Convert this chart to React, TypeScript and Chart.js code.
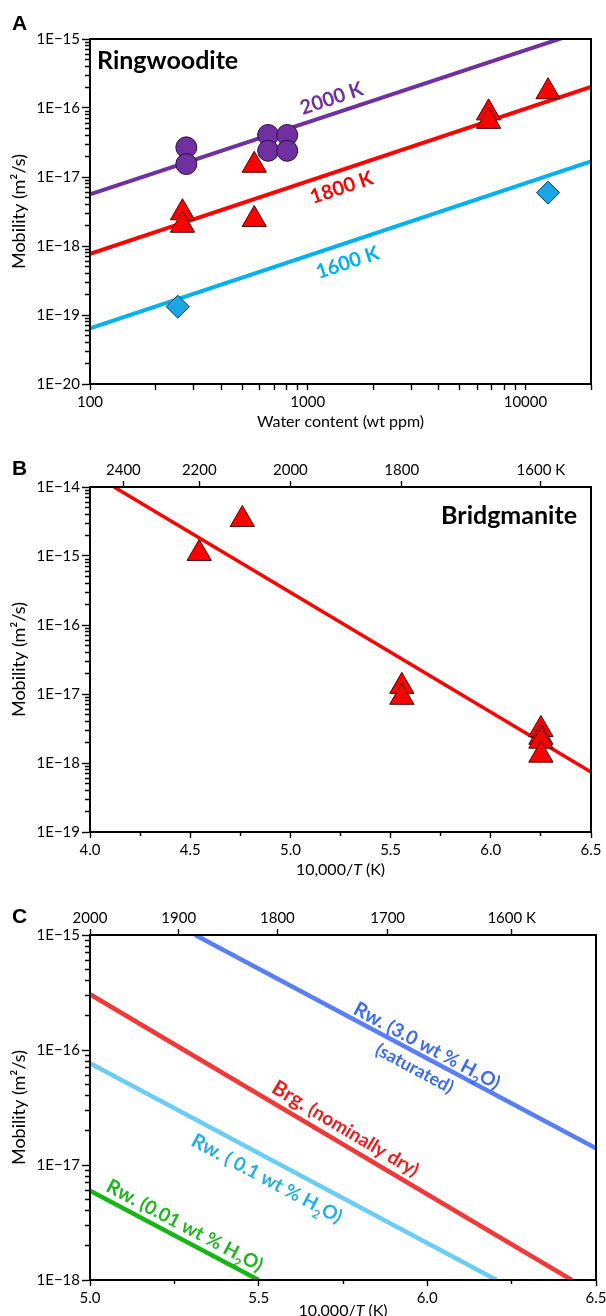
import React, { useEffect, useRef } from 'react';
import { Chart, registerables } from 'chart.js';

Chart.register(...registerables);

const FONT_FAMILY = 'Lato, "Open Sans", "DejaVu Sans", sans-serif';
const LETTER_FAMILY = '"Liberation Sans", Arial, sans-serif';

// ---------------- Panel A : Ringwoodite ----------------
const waterLabelledTicks = [100, 1000, 10000];
const waterTickExponents = [2, 3, 4];
const logMultipliers = [1, 2, 3, 4, 5, 6, 7, 8, 9];
const mobilityExponentsA = [-20, -19, -18, -17, -16, -15];

const fit2000Water = [100, 20000];
const fit2000Mobility = [5.6e-18, 1.42e-15];
const fit1800Water = [100, 20000];
const fit1800Mobility = [7.7e-19, 2.02e-16];
const fit1600Water = [100, 20000];
const fit1600Mobility = [6.4e-20, 1.68e-17];

const rw2000Water = [277, 277, 658, 658, 805, 805];
const rw2000Mobility = [2.69e-17, 1.54e-17, 4.06e-17, 2.4e-17, 4.06e-17, 2.4e-17];
const rw1800Water = [266, 266, 568, 568, 6770, 6770, 12700];
const rw1800Mobility = [3.03e-18, 2.0e-18, 1.48e-17, 2.42e-18, 8.5e-17, 6.4e-17, 1.72e-16];
const rw1600Water = [253, 12700];
const rw1600Mobility = [1.32e-19, 5.93e-18];

// ---------------- Panel B : Bridgmanite ----------------
const invTTicksB = [4.0, 4.25, 4.5, 4.75, 5.0, 5.25, 5.5, 5.75, 6.0, 6.25, 6.5];
const tempTicksB = [2400, 2200, 2000, 1800, 1600];
const mobilityExponentsB = [-19, -18, -17, -16, -15, -14];

const brgFitInvT = [4.12, 6.5];
const brgFitMobility = [1.0e-14, 7.4e-19];
const brgInvT = [4.545, 4.76, 5.556, 5.556, 6.25, 6.25, 6.25, 6.25];
const brgMobility = [1.09e-15, 3.38e-15, 1.29e-17, 8.96e-18, 3.06e-18, 2.36e-18, 2.07e-18, 1.3e-18];

// ---------------- Panel C : comparison ----------------
const invTTicksC = [5.0, 5.25, 5.5, 5.75, 6.0, 6.25, 6.5];
const tempTicksC = [2000, 1900, 1800, 1700, 1600];
const mobilityExponentsC = [-18, -17, -16, -15];

const rwSatInvT = [5.312, 6.5];
const rwSatMobility = [1.0e-15, 1.4e-17];
const brgDryInvT = [5.0, 6.428];
const brgDryMobility = [3.05e-16, 1.0e-18];
const rw01InvT = [5.0, 6.205];
const rw01Mobility = [7.66e-17, 1.0e-18];
const rw001InvT = [5.0, 5.5];
const rw001Mobility = [5.98e-18, 1.0e-18];

// ---------------- styles ----------------
const PURPLE = '#7030A0';
const RED = '#FF0000';
const CYAN = '#00B0F0';
const DIAMOND = '#19A6E3';
const C_BLUE_LINE = '#5A7FF2';
const C_BLUE_TEXT = '#3B6CEF';
const C_RED_LINE = '#F03A3A';
const C_RED_TEXT = '#EE1C1C';
const C_LBLUE_LINE = '#6CCDF3';
const C_LBLUE_TEXT = '#22AEEA';
const C_GREEN_LINE = '#18B418';
const C_GREEN_TEXT = '#1FB51F';

const zip = (xs: number[], ys: number[]) => xs.map((x, i) => ({ x, y: ys[i] }));

function logTickValues(exps: number[], min: number, max: number) {
  const out: number[] = [];
  for (const e of exps) {
    for (const m of logMultipliers) {
      const v = Number(`${m}e${e}`);
      if (v >= min * (1 - 1e-9) && v <= max * (1 + 1e-9)) out.push(v);
    }
  }
  return out;
}
const isDecade = (v: number) => {
  const l = Math.log10(v);
  return Math.abs(l - Math.round(l)) < 1e-9;
};
const isHalf = (v: number) => Math.abs(v * 2 - Math.round(v * 2)) < 1e-6;

const tickFont = { family: FONT_FAMILY, size: 15 };

function zeroPad(s: any) {
  s.paddingLeft = 0;
  s.paddingRight = 0;
  s.paddingTop = 0;
  s.paddingBottom = 0;
}

function mobilityAxis(min: number, max: number, exps: number[]) {
  return {
    type: 'logarithmic',
    position: 'left',
    min,
    max,
    afterFit: (s: any) => {
      s.width = 90;
      zeroPad(s);
    },
    afterBuildTicks: (s: any) => {
      s.ticks = logTickValues(exps, min, max).map((value) => ({ value }));
    },
    ticks: {
      autoSkip: false,
      padding: 2,
      color: '#000',
      font: tickFont,
      callback: (v: any) => (isDecade(Number(v)) ? `1E\u2212${-Math.round(Math.log10(Number(v)))}` : ''),
    },
    grid: {
      drawOnChartArea: false,
      tickLength: 8,
      tickWidth: 1.4,
      tickColor: '#000',
      tickBorderDash: (c: any) => (c.tick && isDecade(c.tick.value) ? [] : [0, 3, 4, 100]),
    },
    border: { color: '#000', width: 2 },
    title: {
      display: true,
      text: 'Mobility (m\u00B2/s)',
      color: '#000',
      font: { family: FONT_FAMILY, size: 18 },
      padding: { top: 8, bottom: 0 },
    },
  };
}

function invTAxis(min: number, max: number, tickVals: number[], height: number) {
  return {
    type: 'linear',
    position: 'bottom',
    min,
    max,
    afterFit: (s: any) => {
      s.height = height;
      zeroPad(s);
    },
    afterBuildTicks: (s: any) => {
      s.ticks = tickVals.map((value) => ({ value }));
    },
    ticks: {
      autoSkip: false,
      maxRotation: 0,
      minRotation: 0,
      padding: 3,
      color: '#000',
      font: tickFont,
      callback: (v: any) => (isHalf(Number(v)) ? Number(v).toFixed(1) : ''),
    },
    grid: {
      drawOnChartArea: false,
      tickLength: 6,
      tickWidth: 1.4,
      tickColor: '#000',
      tickBorderDash: (c: any) => (c.tick && isHalf(c.tick.value) ? [] : [3, 100]),
    },
    border: { color: '#000', width: 2 },
  };
}

function tempAxis(min: number, max: number, temps: number[]) {
  return {
    type: 'linear',
    position: 'top',
    min,
    max,
    afterFit: (s: any) => {
      s.height = 39;
      zeroPad(s);
    },
    afterBuildTicks: (s: any) => {
      s.ticks = temps.map((T) => ({ value: 10000 / T }));
    },
    ticks: {
      autoSkip: false,
      maxRotation: 0,
      minRotation: 0,
      padding: 2,
      color: '#000',
      font: tickFont,
      callback: (_v: any, i: number) => (i === temps.length - 1 ? `${temps[i]} K` : `${temps[i]}`),
    },
    grid: { drawOnChartArea: false, tickLength: 6, tickWidth: 1.4, tickColor: '#000' },
    border: { color: '#000', width: 2 },
  };
}

type Seg = { t: string; size: number; bold?: boolean; italic?: boolean; sub?: boolean };
type Label = { segs: Seg[]; color: string; x: number; y: number; alongX: number[]; alongY: number[] };

const segFont = (s: Seg) => `${s.italic ? 'italic ' : ''}${s.bold ? 'bold ' : ''}${s.size}px ${FONT_FAMILY}`;

function drawRich(ctx: any, segs: Seg[], x: number, y: number, angle: number, color: string, align: string) {
  const baseSize = Math.max(...segs.map((s) => (s.sub ? 0 : s.size)));
  ctx.save();
  ctx.translate(x, y);
  ctx.rotate(angle);
  ctx.fillStyle = color;
  ctx.textBaseline = 'alphabetic';
  ctx.textAlign = 'left';
  const widths = segs.map((s) => {
    ctx.font = segFont(s);
    return ctx.measureText(s.t).width;
  });
  const total = widths.reduce((a, b) => a + b, 0);
  let cx = align === 'left' ? 0 : align === 'right' ? -total : -total / 2;
  const base = baseSize * 0.36;
  segs.forEach((s, i) => {
    ctx.font = segFont(s);
    ctx.fillText(s.t, cx, base + (s.sub ? baseSize * 0.3 : 0));
    cx += widths[i];
  });
  ctx.restore();
}

function annotations(cfg: {
  letter: string;
  letterBaseline: number;
  title?: { text: string; dx: number; dy: number; align: string };
  labels: Label[];
  xTitleY?: number;
}) {
  return {
    id: 'panelAnnotations',
    afterDraw(chart: any) {
      const ctx = chart.ctx;
      const a = chart.chartArea;
      const xs = chart.scales.x;
      const ys = chart.scales.y;
      ctx.save();
      ctx.strokeStyle = '#000';
      ctx.lineWidth = 2;
      ctx.strokeRect(a.left, a.top, a.right - a.left, a.bottom - a.top);

      ctx.fillStyle = '#000';
      ctx.font = `bold 21px ${LETTER_FAMILY}`;
      ctx.textAlign = 'left';
      ctx.textBaseline = 'alphabetic';
      ctx.fillText(cfg.letter, 12, cfg.letterBaseline);

      if (cfg.title) {
        const tx = cfg.title.align === 'right' ? a.right - cfg.title.dx : a.left + cfg.title.dx;
        drawRich(ctx, [{ t: cfg.title.text, size: 25, bold: true }], tx, a.top + cfg.title.dy, 0, '#000', cfg.title.align);
      }

      for (const l of cfg.labels) {
        const x1 = xs.getPixelForValue(l.alongX[0]);
        const y1 = ys.getPixelForValue(l.alongY[0]);
        const x2 = xs.getPixelForValue(l.alongX[1]);
        const y2 = ys.getPixelForValue(l.alongY[1]);
        const angle = Math.atan2(y2 - y1, x2 - x1);
        drawRich(ctx, l.segs, xs.getPixelForValue(l.x), ys.getPixelForValue(l.y), angle, l.color, 'center');
      }

      if (cfg.xTitleY !== undefined) {
        drawRich(
          ctx,
          [
            { t: '10,000/', size: 16 },
            { t: 'T', size: 16, italic: true },
            { t: ' (K)', size: 16 },
          ],
          (a.left + a.right) / 2,
          cfg.xTitleY,
          0,
          '#000',
          'center'
        );
      }
      ctx.restore();
    },
  };
}

const lineDs = (label: string, xs: number[], ys: number[], color: string, width: number) => ({
  label,
  data: zip(xs, ys),
  showLine: true,
  borderColor: color,
  backgroundColor: color,
  borderWidth: width,
  pointRadius: 0,
  order: 2,
});

const markerDs = (label: string, xs: number[], ys: number[], style: string, radius: number, fill: string, edge: string) => ({
  label,
  data: zip(xs, ys),
  showLine: false,
  pointStyle: style,
  pointRadius: radius,
  backgroundColor: fill,
  borderColor: edge,
  borderWidth: 1,
  order: 1,
});

const baseOptions = (scales: any, padTop: number) => ({
  animation: false,
  responsive: false,
  events: [],
  layout: { padding: { top: padTop, right: 10, left: 0, bottom: 0 } },
  plugins: { legend: { display: false }, tooltip: { enabled: false } },
  scales,
});

function buildA() {
  const labels: Label[] = [
    { segs: [{ t: '2000 K', size: 20, bold: true }], color: PURPLE, x: 1285, y: 1.4e-16, alongX: fit2000Water, alongY: fit2000Mobility },
    { segs: [{ t: '1800 K', size: 20, bold: true }], color: RED, x: 1428, y: 7.16e-18, alongX: fit1800Water, alongY: fit1800Mobility },
    { segs: [{ t: '1600 K', size: 20, bold: true }], color: CYAN, x: 1520, y: 5.86e-19, alongX: fit1600Water, alongY: fit1600Mobility },
  ];
  return {
    type: 'scatter',
    data: {
      datasets: [
        markerDs('2000 K', rw2000Water, rw2000Mobility, 'circle', 10.5, PURPLE, '#2b0f40'),
        markerDs('1800 K', rw1800Water, rw1800Mobility, 'triangle', 14, RED, '#4a0000'),
        markerDs('1600 K', rw1600Water, rw1600Mobility, 'rectRot', 11.5, DIAMOND, '#0b3550'),
        lineDs('2000 K fit', fit2000Water, fit2000Mobility, PURPLE, 4),
        lineDs('1800 K fit', fit1800Water, fit1800Mobility, RED, 4),
        lineDs('1600 K fit', fit1600Water, fit1600Mobility, CYAN, 4),
      ],
    },
    options: baseOptions(
      {
        x: {
          type: 'logarithmic',
          position: 'bottom',
          min: 100,
          max: 20000,
          afterFit: (s: any) => {
            s.height = 64;
            zeroPad(s);
          },
          afterBuildTicks: (s: any) => {
            s.ticks = logTickValues(waterTickExponents, 100, 20000).map((value) => ({ value }));
          },
          ticks: {
            autoSkip: false,
            maxRotation: 0,
            minRotation: 0,
            padding: 3,
            color: '#000',
            font: tickFont,
            callback: (v: any) => (waterLabelledTicks.includes(Number(v)) ? String(v) : ''),
          },
          grid: { drawOnChartArea: false, tickLength: 6, tickWidth: 1.4, tickColor: '#000' },
          border: { color: '#000', width: 2 },
          title: {
            display: true,
            text: 'Water content (wt ppm)',
            color: '#000',
            font: { family: FONT_FAMILY, size: 16 },
            padding: { top: 0, bottom: 17 },
          },
        },
        y: mobilityAxis(1e-20, 1e-15, mobilityExponentsA),
      },
      39
    ),
    plugins: [annotations({ letter: 'A', letterBaseline: 30, title: { text: 'Ringwoodite', dx: 7, dy: 21, align: 'left' }, labels })],
  };
}

function buildB() {
  return {
    type: 'scatter',
    data: {
      datasets: [
        markerDs('Bridgmanite', brgInvT, brgMobility, 'triangle', 14, RED, '#4a0000'),
        lineDs('Bridgmanite fit', brgFitInvT, brgFitMobility, RED, 3.5),
      ],
    },
    options: baseOptions(
      {
        x: invTAxis(4.0, 6.5, invTTicksB, 64),
        xTop: tempAxis(4.0, 6.5, tempTicksB),
        y: mobilityAxis(1e-19, 1e-14, mobilityExponentsB),
      },
      0
    ),
    plugins: [
      annotations({ letter: 'B', letterBaseline: 27, title: { text: 'Bridgmanite', dx: 14, dy: 28, align: 'right' }, labels: [], xTitleY: 421 }),
    ],
  };
}

function buildC() {
  const labels: Label[] = [
    {
      segs: [
        { t: 'Rw. ', size: 20, bold: true },
        { t: '(3.0 wt % H', size: 19, bold: true },
        { t: '2', size: 12, bold: true, sub: true },
        { t: 'O)', size: 19, bold: true },
      ],
      color: C_BLUE_TEXT,
      x: 6.0,
      y: 1.1e-16,
      alongX: rwSatInvT,
      alongY: rwSatMobility,
    },
    { segs: [{ t: '(saturated)', size: 18, bold: true }], color: C_BLUE_TEXT, x: 5.963, y: 6.97e-17, alongX: rwSatInvT, alongY: rwSatMobility },
    {
      segs: [
        { t: 'Brg. ', size: 21, bold: true },
        { t: '(nominally dry)', size: 19, bold: true },
      ],
      color: C_RED_TEXT,
      x: 5.759,
      y: 2.1e-17,
      alongX: brgDryInvT,
      alongY: brgDryMobility,
    },
    {
      segs: [
        { t: 'Rw. ', size: 20, bold: true },
        { t: '( 0.1 wt % H', size: 19, bold: true },
        { t: '2', size: 12, bold: true, sub: true },
        { t: 'O)', size: 19, bold: true },
      ],
      color: C_LBLUE_TEXT,
      x: 5.525,
      y: 7.71e-18,
      alongX: rw01InvT,
      alongY: rw01Mobility,
    },
    {
      segs: [
        { t: 'Rw. ', size: 20, bold: true },
        { t: '(0.01 wt % H', size: 19, bold: true },
        { t: '2', size: 12, bold: true, sub: true },
        { t: 'O)', size: 19, bold: true },
      ],
      color: C_GREEN_TEXT,
      x: 5.282,
      y: 3.01e-18,
      alongX: rw001InvT,
      alongY: rw001Mobility,
    },
  ];
  return {
    type: 'scatter',
    data: {
      datasets: [
        lineDs('Rw. 3.0 wt % H2O (saturated)', rwSatInvT, rwSatMobility, C_BLUE_LINE, 4.5),
        lineDs('Brg. (nominally dry)', brgDryInvT, brgDryMobility, C_RED_LINE, 4.5),
        lineDs('Rw. 0.1 wt % H2O', rw01InvT, rw01Mobility, C_LBLUE_LINE, 4.5),
        lineDs('Rw. 0.01 wt % H2O', rw001InvT, rw001Mobility, C_GREEN_LINE, 4.5),
      ],
    },
    options: baseOptions(
      {
        x: invTAxis(5.0, 6.5, invTTicksC, 36),
        xTop: tempAxis(5.0, 6.5, tempTicksC),
        y: mobilityAxis(1e-18, 1e-15, mobilityExponentsC),
      },
      0
    ),
    plugins: [annotations({ letter: 'C', letterBaseline: 27, labels, xTitleY: 414 })],
  };
}

function ChartCanvas({ height, build }: { height: number; build: () => any }) {
  const ref = useRef<HTMLCanvasElement | null>(null);
  useEffect(() => {
    if (!ref.current) return;
    const chart = new Chart(ref.current, build());
    return () => chart.destroy();
  }, []);
  return <canvas ref={ref} width={606} height={height} style={{ display: 'block', width: 606, height }} />;
}

export default function App() {
  return (
    <div style={{ position: 'absolute', left: 0, top: 0, width: 606, height: 1316, background: '#fff', overflow: 'hidden' }}>
      <ChartCanvas height={448} build={buildA} />
      <ChartCanvas height={448} build={buildB} />
      <ChartCanvas height={420} build={buildC} />
    </div>
  );
}
